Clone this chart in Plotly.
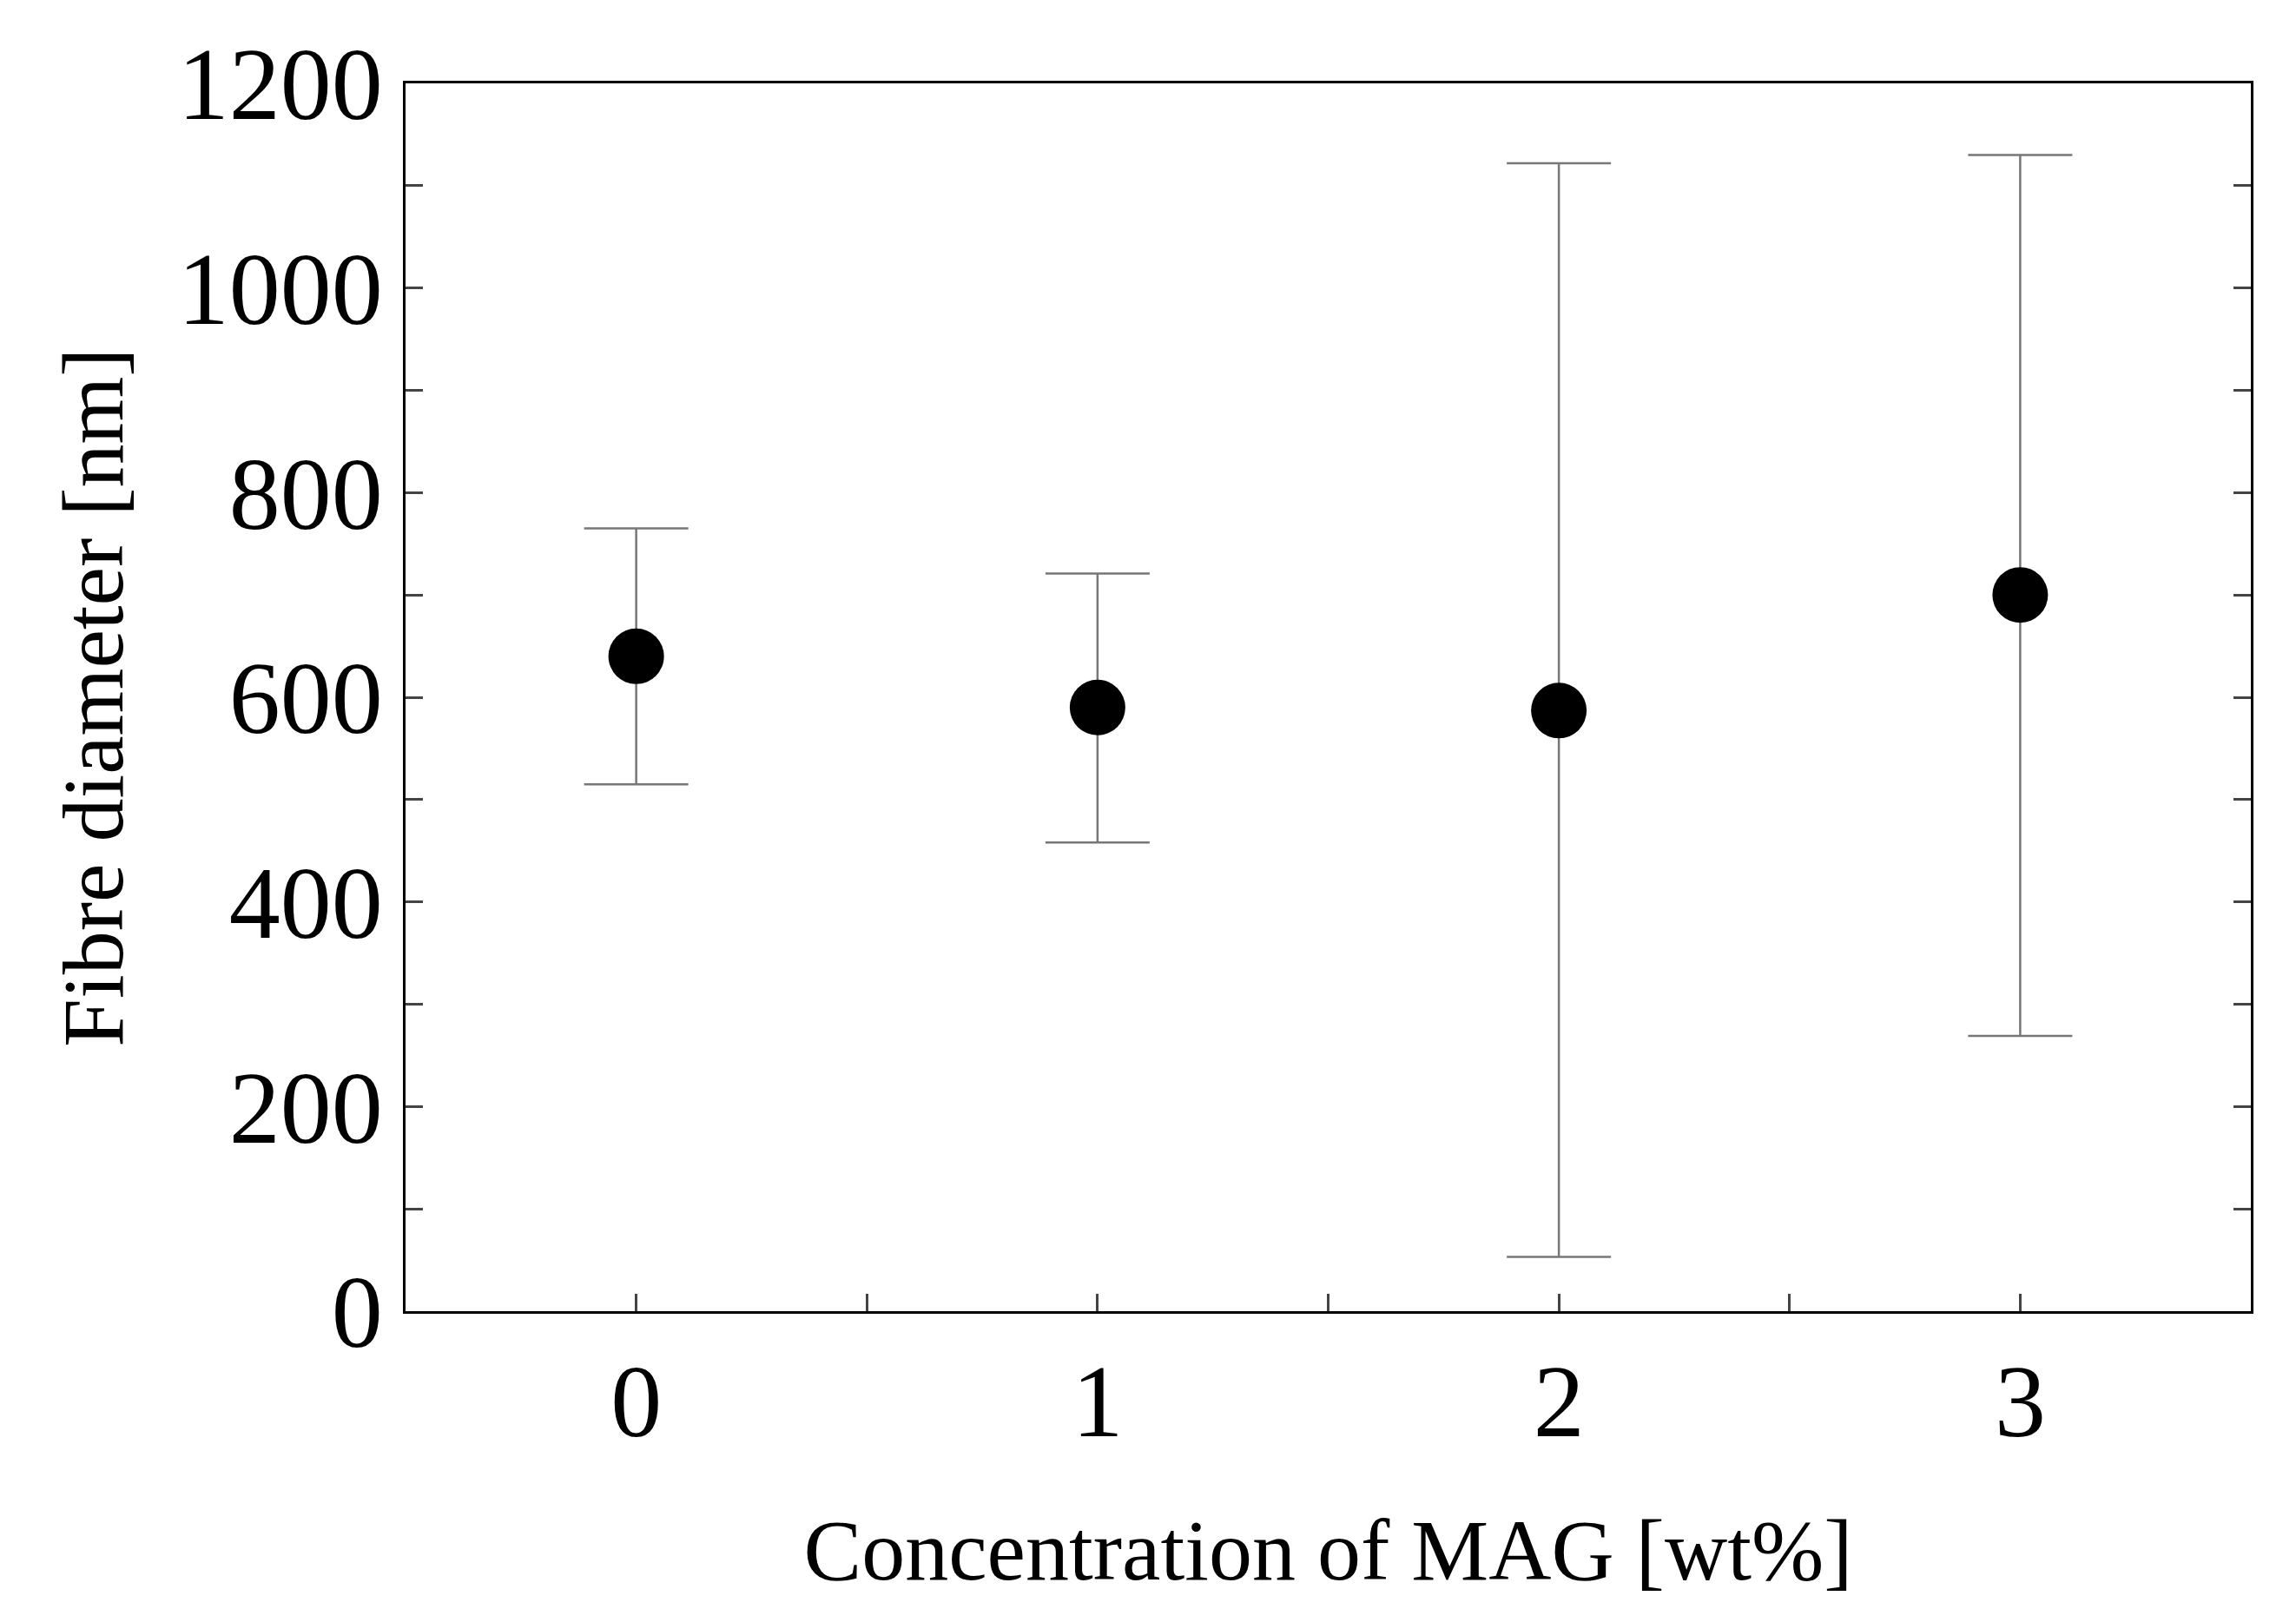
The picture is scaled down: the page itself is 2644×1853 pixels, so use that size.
import plotly.graph_objects as go

conc = [0, 1, 2, 3]
diam = [640, 590, 587, 700]
err_plus = [125, 131, 535, 430]
err_minus = [125, 132, 534, 431]

fig = go.Figure(go.Scatter(
    x=conc, y=diam, mode="markers",
    marker=dict(color="black", size=64),
    error_y=dict(type="data", symmetric=False, array=err_plus, arrayminus=err_minus,
                 color="#777777", thickness=2.5, width=60),
))
tfont = dict(family="Liberation Serif", size=118, color="black")
afont = dict(family="Liberation Serif", size=100, color="black")
fig.update_layout(
    width=2644, height=1853, paper_bgcolor="white", plot_bgcolor="white",
    margin=dict(l=459, r=60, t=88, b=351), showlegend=False, font=tfont,
)
fig.update_xaxes(range=[-0.5, 3.5], tickvals=conc, ticks="inside", ticklen=20, tickwidth=2.5,
                 showline=True, linewidth=2.5, linecolor="black", mirror=True, showgrid=False,
                 zeroline=False, minor=dict(dtick=0.5, ticks="inside", ticklen=20, tickwidth=2.5),
                 title=dict(text="Concentration of MAG [wt%]", font=afont, standoff=70),
                 tickfont=tfont)
fig.update_yaxes(range=[0, 1200], dtick=200, ticks="inside", ticklen=20, tickwidth=2.5,
                 showline=True, linewidth=2.5, linecolor="black", mirror="allticks", showgrid=False,
                 zeroline=False, minor=dict(dtick=100, ticks="inside", ticklen=20, tickwidth=2.5),
                 title=dict(text="Fibre diameter [nm]", font=afont, standoff=30),
                 tickfont=tfont)
fig.write_html("out.html")
